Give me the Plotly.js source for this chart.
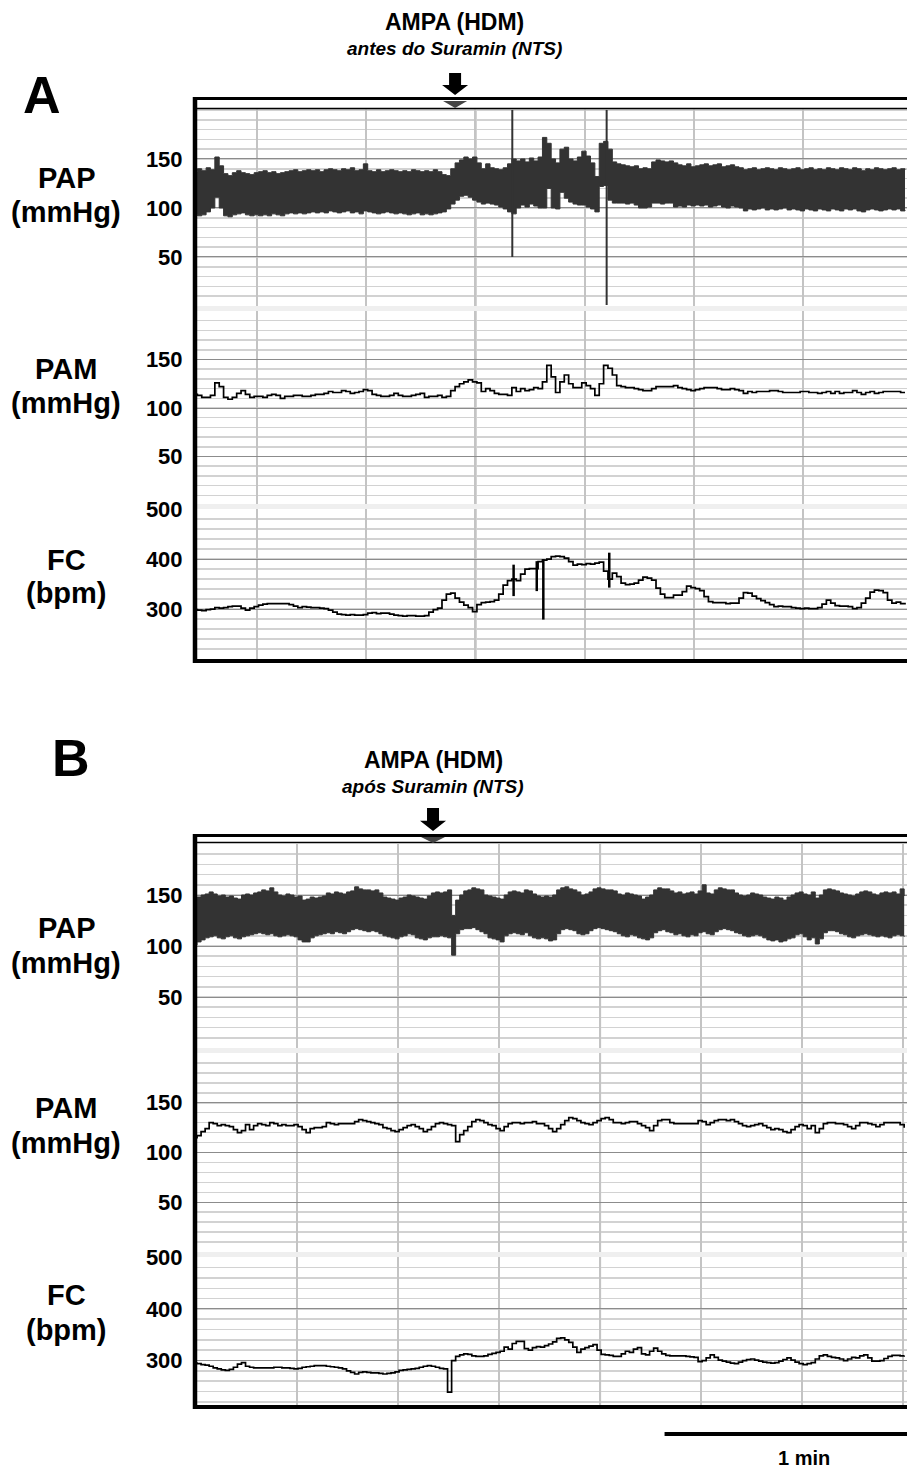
<!DOCTYPE html>
<html>
<head>
<meta charset="utf-8">
<script src="https://cdn.plot.ly/plotly-3.0.1.min.js"></script>
<style>
  html, body { margin: 0; padding: 0; background: #fff; }
  #chart { width: 907px; height: 1468px; }
</style>
</head>
<body>
<div id="chart"></div>
<script>
// ---------- Recording A: AMPA (HDM) before Suramin (NTS); 1 sample per second ----------
const papA_hi = [137,140,138,141,139,152,143,135,133,136, 138,136,135,134,136,137,138,136,137,135,
  136,137,138,139,137,138,139,138,139,137, 139,140,139,138,140,139,141,138,139,145,
  138,137,139,137,138,139,138,137,138,137, 139,138,137,138,137,139,137,134,133,140,
  146,149,152,150,152,146,140,145,141,140, 139,141,145,150,148,150,147,151,148,152,
  172,166,150,146,160,162,150,148,152,158, 153,146,132,166,168,160,147,145,144,143,
  142,143,140,141,140,147,149,148,147,148, 146,144,143,145,142,143,144,145,143,144,
  145,142,143,144,142,141,139,140,141,139, 140,141,140,139,141,140,139,140,141,139,
  140,141,139,140,139,141,140,139,141,140, 139,141,140,138,140,139,141,140,139,140,
  141,139,140,139];
const papA_lo = [93,92,93,96,100,111,100,92,91,93, 94,95,93,92,93,92,93,92,94,93,
  92,94,95,94,95,94,95,96,95,96, 95,97,96,95,96,97,95,96,94,97,
  96,95,94,95,96,95,94,95,94,93, 94,95,93,94,93,94,95,96,99,104,
  108,112,113,111,108,106,104,105,104,103, 101,99,96,94,100,103,101,104,102,100,
  100,120,100,99,116,110,106,104,103,103, 101,99,96,122,123,108,105,105,105,104,
  105,103,100,100,101,105,105,104,105,105, 101,102,101,103,102,103,102,103,101,102,
  103,101,100,102,101,100,97,99,98,99, 100,98,99,98,99,100,98,99,98,97,
  99,98,97,99,98,97,99,98,97,99, 98,99,97,96,98,99,98,97,98,99,
  98,99,97,98];
const pamA = [114,113,111,111,113,126,122,111,109,111, 115,118,114,111,112,112,111,113,114,113,
  110,112,112,113,113,112,112,113,114,114, 115,117,116,116,118,117,115,116,117,119,
  118,114,113,112,112,113,115,113,112,112, 113,114,115,111,112,112,113,111,112,118,
  122,125,127,129,127,126,117,120,118,115, 114,114,113,121,117,120,118,119,121,120,
  127,144,132,116,127,134,125,121,121,126, 123,120,113,125,144,141,134,123,122,121,
  121,120,119,118,118,120,122,122,122,122, 123,121,120,119,118,119,120,121,121,121,
  120,119,119,120,119,118,115,117,116,117, 117,117,118,118,117,116,116,116,116,117,
  117,116,116,115,116,117,115,117,115,116, 116,118,116,114,116,117,115,116,117,117,
  117,117,116,116];
const fcA = [299,298,297,299,300,303,302,303,305,306, 306,302,298,302,305,308,310,311,311,311,
  311,311,309,306,303,305,304,303,303,302, 301,298,294,290,289,288,289,288,288,289,
  292,293,291,292,292,290,288,287,286,287, 287,286,286,287,294,299,302,318,330,332,
  322,314,308,303,295,309,313,314,315,318, 330,348,357,360,357,370,380,381,381,395,
  398,400,405,406,405,402,395,388,390,389, 391,390,392,394,376,360,372,365,352,349,
  350,352,358,364,362,358,342,330,323,323, 328,328,335,346,343,341,337,325,315,313,
  313,313,311,312,312,322,333,332,326,321, 317,313,309,305,306,305,305,303,302,301,
  302,301,301,303,310,318,312,307,306,306, 305,301,303,312,322,334,338,337,333,318,
  312,314,311,309];
// full-scale transients on the pressure channel (s, mmHg)
const papA_spikeT = [73.1, 94.7];
const papA_spikeHi = [200, 200];
const papA_spikeLo = [50, 1];
// heart-rate transients (s, bpm)
const fcA_spikeT = [73.4, 78.7, 80.2, 95.3];
const fcA_spikeHi = [389, 396, 400, 413];
const fcA_spikeLo = [326, 336, 279, 343];
const injA = 60.0;

// ---------- Recording B: AMPA (HDM) after Suramin (NTS); 1 sample per second ----------
const papB_hi = [146,148,150,151,153,151,149,150,148,149, 147,146,150,151,150,152,153,155,154,157,
  153,150,149,151,150,148,149,145,146,148, 147,148,149,152,151,153,152,151,153,154,
  158,156,155,155,154,155,152,148,147,146, 145,147,148,150,149,148,147,146,149,152,
  153,152,153,155,130,145,150,154,155,157, 156,155,150,149,148,147,146,150,153,154,
  153,152,155,154,151,149,
  148,149,148,150,155,157,158,156,155,153, 150,151,153,156,157,156,155,155,154,151,
  150,152,151,150,149,146,148,150,155,157, 156,156,154,152,153,151,152,153,151,154,
  160,152,151,155,157,156,155,155,152,150, 149,150,152,151,150,148,147,146,148,147,
  145,148,150,152,153,151,150,153,147,150, 155,156,155,154,152,151,150,149,151,153,
  154,153,151,150,152,153,152,153,151,156, 149];
const papB_lo = [101,104,106,108,109,110,108,107,109,110, 108,107,109,110,111,112,113,112,111,112,
  110,109,110,111,110,109,106,104,104,108, 110,111,112,113,112,114,113,112,114,116,
  117,116,115,114,115,114,112,110,109,108, 107,109,110,112,111,108,107,106,108,109,
  109,110,109,108,91,112,116,117,117,118, 116,114,112,108,107,106,104,110,112,113,
  112,111,113,110,108,107,
  108,107,105,106,112,116,117,116,115,112, 111,112,115,117,118,117,116,115,114,112,
  110,109,111,110,108,107,106,108,113,115, 116,114,113,111,112,110,109,111,110,113,
  114,112,111,114,116,117,116,115,113,112, 110,109,110,111,110,108,106,105,106,104,
  105,107,108,111,112,109,106,108,102,107, 113,115,115,114,112,111,109,108,110,111,
  112,111,110,109,110,109,108,110,111,110, 109];
const pamB = [115,117,121,124,130,129,127,128,127,126, 123,120,122,128,123,127,129,128,127,130,
  129,127,128,127,127,128,126,123,120,124, 125,125,126,130,129,128,129,129,129,129,
  131,133,132,131,130,129,128,125,124,122, 121,123,125,127,128,126,124,121,123,126,
  129,130,129,128,127,111,118,122,126,131, 133,132,130,128,127,124,122,126,129,130,
  130,129,130,130,131,129,
  129,127,124,121,124,128,132,135,134,132, 130,129,128,130,132,134,135,133,130,130,
  129,130,131,131,129,127,125,122,127,132, 133,133,130,129,129,129,129,129,129,132,
  131,128,130,132,133,133,132,133,131,129, 127,126,127,128,129,127,125,123,124,123,
  121,120,123,126,128,127,124,127,120,124, 129,130,130,129,129,128,126,124,127,130,
  130,129,128,126,128,130,130,130,130,128, 125];
const fcB = [295,294,292,291,289,286,284,282,281,283, 287,293,296,289,287,286,286,286,286,286,
  287,287,286,286,285,284,285,287,288,289, 290,290,290,289,288,287,286,284,280,277,
  274,277,278,277,276,276,275,274,275,276, 278,281,282,283,284,285,287,289,290,289,
  287,285,284,239,300,308,311,313,312,309, 308,308,309,312,314,316,318,326,322,333,
  337,337,323,320,325,327,
  326,329,332,336,343,344,340,335,326,316, 322,325,328,331,320,312,311,310,308,308,
  313,318,316,322,325,313,311,318,324,318, 313,310,309,309,309,309,308,307,306,298,
  300,305,311,306,301,299,297,295,294,297, 300,302,303,301,299,297,296,295,296,299,
  302,305,301,297,294,292,294,296,303,309, 311,308,306,305,303,300,303,306,305,309,
  311,305,299,299,300,304,308,310,310,309, 310];
const injB = 59.4;
const scaleBarSec = 60;

// ---------- page geometry ----------
const W = 907, H = 1468;
const fx = px => px / W;
const fy = py => 1 - py / H;
const FONT = 'Liberation Sans, Arial, Helvetica, sans-serif';

const secs = arr => arr.map((_, i) => i);
const tA = secs(pamA);
const tB = secs(pamB);

// time axes: visible window and 25 s chart divisions
const rangeA = [0, 163.46], grid0A = 14.65;
const rangeB = [0, 176.7],  grid0B = 25.74;
const GRID = 25;

function band(t, lo, hi, xa, ya) {
  const base = { x: t, type: 'scatter', mode: 'lines', xaxis: xa, yaxis: ya,
    line: { color: '#333333', width: 1, shape: 'hv' }, hoverinfo: 'skip', showlegend: false };
  return [Object.assign({}, base, { y: lo }),
          Object.assign({}, base, { y: hi, fill: 'tonexty', fillcolor: '#333333' })];
}
function trace(t, y, xa, ya) {
  return { x: t, y: y, type: 'scatter', mode: 'lines', xaxis: xa, yaxis: ya,
    line: { color: '#000', width: 1.7, shape: 'hv' }, hoverinfo: 'skip', showlegend: false };
}
function spikes(ts, lo, hi, xa, ya, w, color) {
  const x = [], y = [];
  ts.forEach((t, i) => { x.push(t, t, null); y.push(lo[i], hi[i], null); });
  return { x: x, y: y, type: 'scatter', mode: 'lines', xaxis: xa, yaxis: ya,
    line: { color: color, width: w }, hoverinfo: 'skip', showlegend: false };
}

const data = [].concat(
  band(tA, papA_lo, papA_hi, 'x', 'y'),
  [spikes(papA_spikeT, papA_spikeLo, papA_spikeHi, 'x', 'y', 2, '#333333')],
  [trace(tA, pamA, 'x', 'y2')],
  [trace(tA, fcA, 'x', 'y3')],
  [spikes(fcA_spikeT, fcA_spikeLo, fcA_spikeHi, 'x', 'y3', 2.5, '#000')],
  band(tB, papB_lo, papB_hi, 'x2', 'y4'),
  [trace(tB, pamB, 'x2', 'y5')],
  [trace(tB, fcB, 'x2', 'y6')]
);

function xAxis(range, tick0) {
  return { domain: [fx(193), 1], range: range, tickmode: 'linear', tick0: tick0, dtick: GRID,
    showgrid: true, gridcolor: '#c4c4c4', gridwidth: 2, showticklabels: false, ticks: '',
    zeroline: false, showline: false, fixedrange: true };
}
function yAxis(anchor, topPx, botPx, range, tickvals, minor0, minorStep) {
  return { anchor: anchor, domain: [fy(botPx), fy(topPx)], range: range,
    tickmode: 'array', tickvals: tickvals, ticktext: tickvals.map(String),
    showgrid: true, gridcolor: '#8c8c8c', gridwidth: 1,
    minor: { tickmode: 'linear', tick0: minor0, dtick: minorStep, showgrid: true,
             gridcolor: '#d2d2d2', gridwidth: 1.5, ticks: '' },
    ticks: 'outside', ticklen: 5, tickcolor: 'rgba(0,0,0,0)',
    tickfont: { family: FONT, size: 22, color: '#000', weight: 'bold' },
    zeroline: false, showline: false, fixedrange: true };
}

const shapes = [];
const hline = (py, x0px, w) => ({ type: 'line', xref: 'paper', yref: 'paper',
  x0: fx(x0px), x1: 1, y0: fy(py), y1: fy(py), line: { color: '#000', width: w }, layer: 'above' });
const vline = (px, y0px, y1px, w) => ({ type: 'line', xref: 'paper', yref: 'paper',
  x0: fx(px), x1: fx(px), y0: fy(y0px), y1: fy(y1px), line: { color: '#000', width: w }, layer: 'above' });
const sep = (y0px, y1px) => ({ type: 'rect', xref: 'paper', yref: 'paper',
  x0: fx(197), x1: 1, y0: fy(y1px), y1: fy(y0px), fillcolor: '#efefef', line: { width: 0 }, layer: 'above' });

// darker division line on the chart paper
shapes.push({ type: 'line', xref: 'x', yref: 'paper', x0: grid0A + 2 * GRID, x1: grid0A + 2 * GRID,
  y0: fy(659), y1: fy(108), line: { color: '#8f8f8f', width: 2 }, layer: 'between' });
shapes.push({ type: 'line', xref: 'x2', yref: 'paper', x0: grid0B + 3 * GRID, x1: grid0B + 3 * GRID,
  y0: fy(1406), y1: fy(844), line: { color: '#8f8f8f', width: 2 }, layer: 'between' });

// channel separators
shapes.push(sep(306, 311), sep(504, 509), sep(1048, 1053), sep(1252, 1257));

// frames
shapes.push(hline(98.5, 193, 3), hline(108.5, 193, 1.5), hline(661, 193, 4), vline(195, 97, 663, 4.5));
shapes.push(hline(835.5, 193, 3), hline(842.5, 193, 1.5), hline(1407, 193, 4), vline(195, 834, 1409, 4.5));

// injection markers: arrow above the chart and event tick in the header strip
function arrow(xa, t, topPx, tipPx) {
  const mid = tipPx - (tipPx - topPx) * 0.45;
  return { type: 'path', xref: xa, yref: 'paper', xsizemode: 'pixel', xanchor: t,
    path: `M -6,${fy(topPx)} L 6,${fy(topPx)} L 6,${fy(mid)} L 13,${fy(mid)} L 0,${fy(tipPx)} L -13,${fy(mid)} L -6,${fy(mid)} Z`,
    fillcolor: '#000', line: { width: 0 }, layer: 'above' };
}
function tick(xa, t, topPx, tipPx) {
  return { type: 'path', xref: xa, yref: 'paper', xsizemode: 'pixel', xanchor: t,
    path: `M -12,${fy(topPx)} L 12,${fy(topPx)} L 0,${fy(tipPx)} Z`,
    fillcolor: '#444', line: { width: 0 }, layer: 'above' };
}
shapes.push(arrow('x', injA, 73, 95), tick('x', injA, 101, 108));
shapes.push(arrow('x2', injB, 808, 831), tick('x2', injB, 837, 843));

// time scale bar
shapes.push({ type: 'line', xref: 'x2', yref: 'paper', x0: rangeB[1] - scaleBarSec, x1: rangeB[1],
  y0: fy(1434), y1: fy(1434), line: { color: '#000', width: 4 }, layer: 'above' });

const ann = (text, xpx, ypx, size, extra) => Object.assign({
  text: text, xref: 'paper', yref: 'paper', x: fx(xpx), y: fy(ypx),
  xanchor: 'center', yanchor: 'middle', showarrow: false, align: 'center',
  font: { family: FONT, size: size, color: '#000' } }, extra || {});

const annotations = [
  ann('<b>A</b>', 42, 95, 52),
  ann('<b>AMPA (HDM)</b>', 455, 22, 23),
  ann('<b><i>antes do Suramin (NTS)</i></b>', 455, 48, 19),
  ann('<b>PAP</b>', 66, 178, 29), ann('<b>(mmHg)</b>', 66, 212, 29),
  ann('<b>PAM</b>', 66, 369, 29), ann('<b>(mmHg)</b>', 66, 403, 29),
  ann('<b>FC</b>', 66, 560, 29), ann('<b>(bpm)</b>', 66, 593, 29),
  ann('<b>B</b>', 71, 758, 52),
  ann('<b>AMPA (HDM)</b>', 433, 760, 23),
  ann('<b><i>após Suramin (NTS)</i></b>', 433, 786, 19),
  ann('<b>PAP</b>', 66, 928, 29), ann('<b>(mmHg)</b>', 66, 963, 29),
  ann('<b>PAM</b>', 66, 1108, 29), ann('<b>(mmHg)</b>', 66, 1143, 29),
  ann('<b>FC</b>', 66, 1295, 29), ann('<b>(bpm)</b>', 66, 1330, 29),
  { text: '<b>1 min</b>', xref: 'x2', yref: 'paper', x: rangeB[1] - scaleBarSec / 2, y: fy(1458),
    xanchor: 'center', yanchor: 'middle', xshift: 18, showarrow: false,
    font: { family: FONT, size: 20, color: '#000' } }
];

const layout = {
  width: W, height: H,
  margin: { l: 0, r: 0, t: 0, b: 0, pad: 0 },
  paper_bgcolor: '#fff', plot_bgcolor: '#fff',
  showlegend: false,
  xaxis: Object.assign(xAxis(rangeA, grid0A), { anchor: 'y' }),
  xaxis2: Object.assign(xAxis(rangeB, grid0B), { anchor: 'y4' }),
  yaxis:  yAxis('x', 108, 306, [0, 202], [50, 100, 150], 0, 10),
  yaxis2: yAxis('x', 311, 505, [0, 200], [50, 100, 150], 0, 10),
  yaxis3: yAxis('x', 509, 659, [200, 500.5], [300, 400, 500], 200, 20),
  yaxis4: yAxis('x2', 844, 1048, [0, 200], [50, 100, 150], 0, 10),
  yaxis5: yAxis('x2', 1053, 1252, [0, 200], [50, 100, 150], 0, 10),
  yaxis6: yAxis('x2', 1257, 1406, [212, 500.5], [300, 400, 500], 220, 20),
  shapes: shapes,
  annotations: annotations
};

Plotly.newPlot('chart', data, layout, { staticPlot: true, displayModeBar: false });
</script>
</body>
</html>
